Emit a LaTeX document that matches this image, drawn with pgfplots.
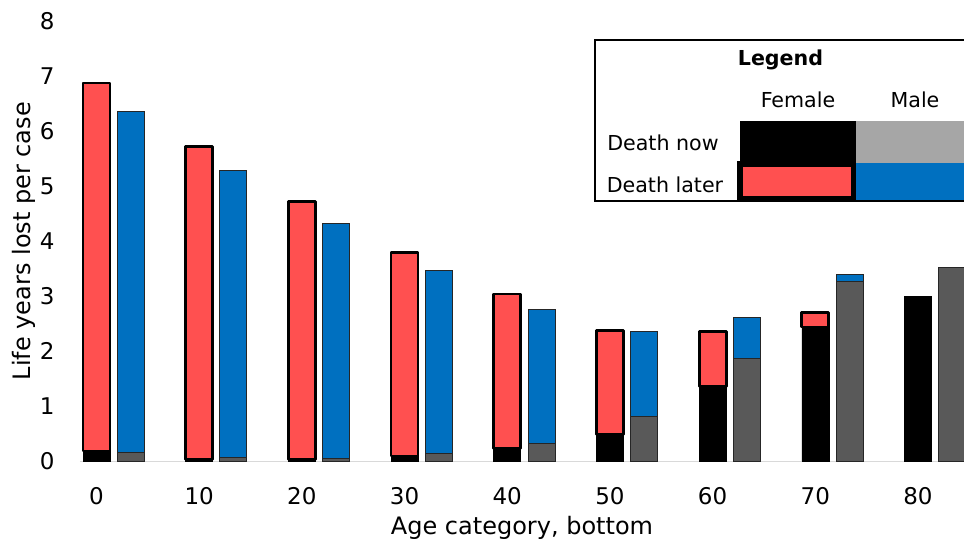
\documentclass[border=0pt]{standalone}
\usepackage{pgfplots}
\pgfplotsset{compat=1.18}
\usepackage{fontspec}
\setmainfont{DejaVu Sans}

\definecolor{fred}{HTML}{FF5050}
\definecolor{mblue}{HTML}{0070C0}
\definecolor{mgray}{HTML}{595959}
\definecolor{lgray}{HTML}{A6A6A6}
\definecolor{axgray}{HTML}{D9D9D9}

% shared geometry: 1 px of the reference = 0.5pt
\pgfplotsset{chartbase/.style={
    at={(40pt,42.25pt)}, anchor=south west,
    scale only axis, width=442pt, height=220.4pt,
    xmin=-1.607, xmax=84.48, ymin=0, ymax=8,
    ybar stacked, bar width=13.5pt,
  }}

\begin{document}
\begin{tikzpicture}
\path[use as bounding box, clip] (0,0) rectangle (482pt,273pt);

% female: death now (bottom) + death later (top)
\begin{axis}[chartbase,
    axis x line=bottom, axis y line=left,
    x axis line style={draw=axgray, line width=0.9pt, -},
    y axis line style={draw=none},
    xtick={0,10,...,80}, ytick={0,1,...,8},
    major tick length=0pt,
    tick label style={font=\fontsize{11.5}{13}\selectfont},
    /pgf/number format/assume math mode=true,
    xticklabel style={inner sep=0pt, anchor=north, yshift=-12.6pt},
    yticklabel style={inner sep=0pt, anchor=east, xshift=-12.5pt},
    xlabel={Age category, bottom},
    ylabel={Life years lost per case},
    label style={font=\fontsize{12}{14}\selectfont},
    xlabel style={at={(axis description cs:0.5,0)}, anchor=base, yshift=-36.4pt},
    ylabel style={at={(axis description cs:0,0.5)}, anchor=base, yshift=25pt},
  ]
  \addplot[fill=black, draw=black, line width=0.3pt] coordinates {
    (0,0.19) (10,0.04) (20,0.04) (30,0.10) (40,0.23)
    (50,0.49) (60,1.36) (70,2.44) (80,3.00)};
  \addplot[fill=fred, draw=black, line width=1.4pt, line join=round] coordinates {
    (0,6.68) (10,5.68) (20,4.68) (30,3.69) (40,2.81)
    (50,1.89) (60,1.00) (70,0.26)};
\end{axis}

% male: death now (bottom) + death later (top)
\begin{axis}[chartbase, hide axis]
  \addplot[fill=mgray, draw=black!85, line width=0.5pt, bar shift=17.15pt] coordinates {
    (0,0.16) (10,0.08) (20,0.06) (30,0.14) (40,0.33)
    (50,0.81) (60,1.87) (70,3.27) (80,3.52)};
  \addplot[fill=mblue, draw=black!85, line width=0.5pt, bar shift=17.15pt] coordinates {
    (0,6.20) (10,5.20) (20,4.26) (30,3.33) (40,2.43)
    (50,1.55) (60,0.74) (70,0.13)};
\end{axis}

% legend table, in reference pixels
\begin{scope}[x=0.5pt, y=-0.5pt, shift={(0pt,273pt)}]
  \fill[white] (595,40) rectangle (990,201.5);
  \fill[black] (740,121) rectangle (856,163);
  \fill[lgray] (856,121) rectangle (990,163);
  \fill[black] (737,161) rectangle (856,201.5);
  \fill[fred] (743,167) rectangle (851,196);
  \fill[mblue] (856,163) rectangle (990,200.5);
  \draw[line width=1pt] (595,40) rectangle (990,201.5);
  \begin{scope}[every node/.style={font=\fontsize{10.3}{12}\selectfont, anchor=base, inner sep=0pt}]
    \node[font=\bfseries\fontsize{10.3}{12}\selectfont] at (780.5,66) {Legend};
    \node at (798,108) {Female};
    \node at (915,108) {Male};
    \node at (663,150.7) {Death now};
    \node at (665,192.7) {Death later};
  \end{scope}
\end{scope}
\end{tikzpicture}
\end{document}
